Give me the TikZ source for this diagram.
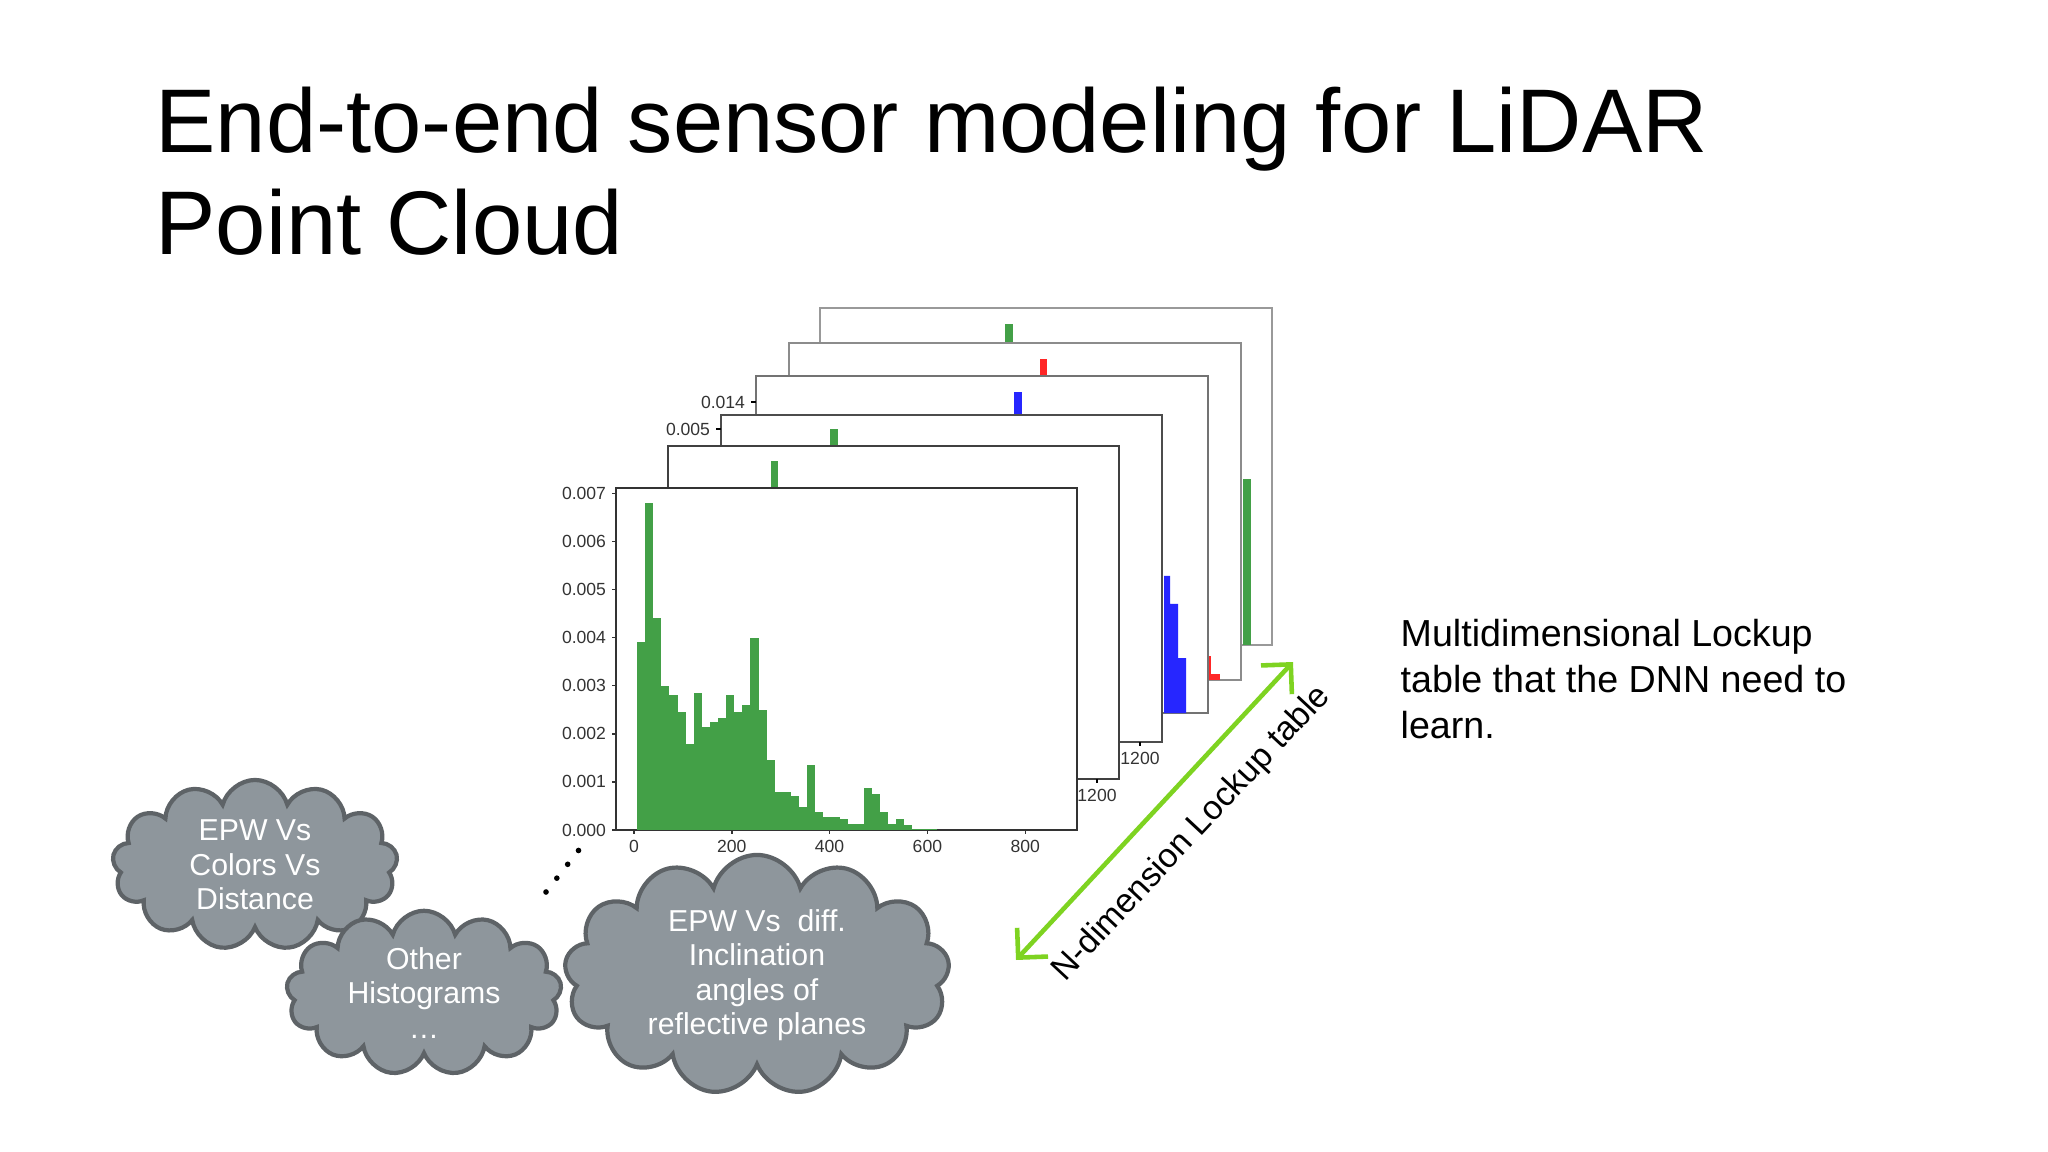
\documentclass[tikz,border=0pt]{standalone}
\usepackage{fontspec}
\setmainfont{Liberation Sans}
\usetikzlibrary{shapes.symbols,arrows.meta}
\definecolor{hg}{HTML}{43A047}
\definecolor{cloudfill}{HTML}{8E969C}
\definecolor{cloudline}{HTML}{5E6367}
\definecolor{lime}{HTML}{7ED321}
\tikzset{
  frame/.style={draw=#1, fill=white, line width=0.6pt},
  tick/.style={font=\fontsize{5}{6}\selectfont, text=black!80, inner sep=1.5pt},
  cloudbox/.style={cloud, cloud puffs=13, cloud ignores aspect, draw=cloudline, line width=1.2pt, fill=cloudfill, text=white, align=center, font=\fontsize{8.6}{9.8}\selectfont, inner sep=0pt},
}
\begin{document}
\begin{tikzpicture}[x=0.01cm,y=-0.01cm]
\useasboundingbox (0,0) rectangle (2048,1152);
\node[anchor=base west, font=\fontsize{25.7}{27}\selectfont, inner sep=0] (title) at (155,153) {End-to-end sensor modeling for LiDAR};
\node[anchor=base west, font=\fontsize{25.7}{27}\selectfont, inner sep=0] (title2) at (155,255) {Point Cloud};
% frame 6
\draw[frame=black!40] (820,308) rectangle (1272,645);
\fill[hg] (1005,324) rectangle (1013,350);
\fill[hg] (1243,479) rectangle (1251,645);
% frame 5
\draw[frame=black!45] (789,343) rectangle (1241,680);
\fill[red!85] (1040,359) rectangle (1047,380);
\fill[red!85] (1210,674) rectangle (1220,680);
\draw[red!85] (1210,656) -- (1210,680);
% frame 4
\draw[frame=black!55] (756,376) rectangle (1208,713);
\draw (756,402) -- (751,402) node[tick, anchor=east] {0.014};
\fill[blue!85] (1014,392) rectangle (1022,420);
\fill[blue!85] (1164,576) rectangle (1170,713) (1170,604) rectangle (1178,713) (1178,658) rectangle (1186,713);
% frame 3
\draw[frame=black!70] (721,415) rectangle (1162,742);
\draw (721,429) -- (716,429) node[tick, anchor=east] {0.005};
\draw (1140,742) -- (1140,746) node[tick, anchor=north] {1200};
\fill[hg] (830,429) rectangle (838,460);
% frame 2
\draw[frame=black!75] (668,446) rectangle (1119,779);
\draw (1097,779) -- (1097,783) node[tick, anchor=north] {1200};
\fill[hg] (771,461) rectangle (778,500);
% front frame
\draw[frame=black!80] (616,488) rectangle (1077,830);
\foreach \i/\h in {0/39,1/68,2/44,3/30,4/28,5/24.5,6/17.8,7/28.5,8/21.5,9/22.5,10/23.3,11/28,12/24.5,13/26,14/40,15/25,16/14.5,17/8,18/7.8,19/7,20/4.8,21/13.5,22/3.8,23/2.7,24/2.7,25/2.2,26/1.2,27/1.2,28/8.8,29/7.5,30/3.7,31/1.2,32/2.2,33/1.0}
  \fill[hg] ({637+\i*8.1},830) rectangle ({637+(\i+1)*8.1},{830-\h*4.81});
\fill[hg] (906,828.5) rectangle (937,830);
\foreach \k in {0,...,7} {
  \draw[black!80] (616,{830-\k*48.1}) -- (612,{830-\k*48.1}) node[tick, anchor=east] {0.00\k};
}
\foreach \v in {0,200,400,600,800} {
  \draw[black!80] ({634+\v*0.489},830) -- ({634+\v*0.489},834) node[tick, anchor=north] {\v};
}
% arrow
\coordinate (a1) at (1016,960);
\coordinate (a2) at (1293,662);
\draw[lime, line width=1.3pt, {Straight Barb[length=6pt]}-{Straight Barb[length=6pt]}] (a1) -- (a2);
\node[rotate=47, text=black, font=\fontsize{9.6}{11}\selectfont, inner sep=0] (lab) at (1192,834) {N-dimension Lockup table};
\node[anchor=north west, align=left, font=\fontsize{10.7}{13}\selectfont, inner sep=0] (desc) at (1400,619) {Multidimensional Lockup\\table that the DNN need to\\learn.};
% clouds
\node[cloudbox, minimum width=2.85cm, minimum height=1.7cm] (c1) at (255,865) {EPW Vs\\Colors Vs\\Distance};
\node[cloudbox, minimum width=2.75cm, minimum height=1.5cm] (c2) at (424,993) {Other\\Histograms\\…};
\node[cloudbox, minimum width=3.85cm, minimum height=2.4cm] (c3) at (757,975) {EPW Vs\ \ diff.\\Inclination\\angles of\\reflective planes};
\coordinate (d1) at (546,892);
\coordinate (d2) at (582,846);
\draw[line width=1.6pt, dash pattern=on 0pt off 5pt, line cap=round] (d1) -- (d2);
\end{tikzpicture}
\end{document}
